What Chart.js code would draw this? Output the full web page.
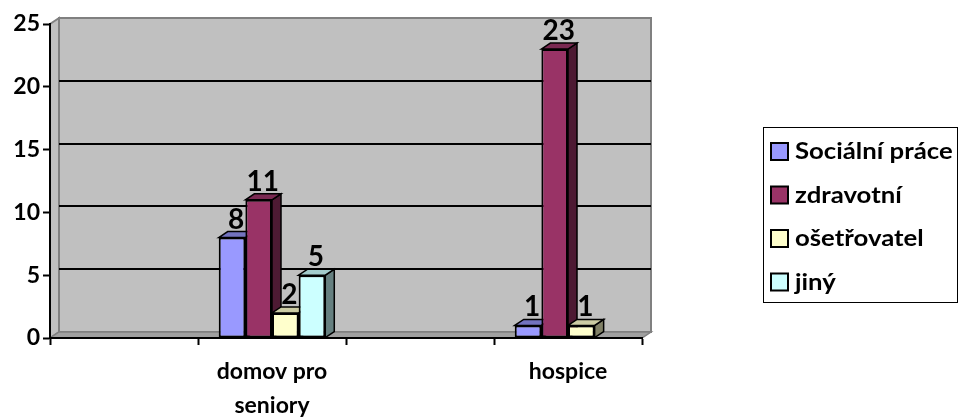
<!DOCTYPE html>
<html>
<head>
<meta charset="utf-8">
<script src="https://cdn.jsdelivr.net/npm/chart.js@4.4.1/dist/chart.umd.min.js"></script>
<style>
  html, body { margin: 0; padding: 0; background: #fff; overflow: hidden; }
  canvas { display: block; }
</style>
</head>
<body>
<canvas id="c" width="959" height="419"></canvas>
<script>
// Categories (the empty ones keep the spacing between the two groups)
const categories = ['', ['domov pro', 'seniory'], '', 'hospice'];
const seriesNames = ['Sociální práce', 'zdravotní', 'ošetřovatel', 'jiný'];

// Counts per category
const socialniPrace = [null, 8, null, 1];
const zdravotni     = [null, 11, null, 23];
const osetrovatel   = [null, 2, null, 1];
const jiny          = [null, 5, null, null];

const yTicks = [0, 5, 10, 15, 20, 25];

// Face colours: front, top, side
const frontColors = ['#9999FF', '#993366', '#FFFFCC', '#CCFFFF'];
const topColors   = ['#7373BF', '#7A2952', '#CCCCA3', '#A3CCCC'];
const sideColors  = ['#4D4D80', '#4D1A33', '#808066', '#668080'];

// Depth offset of the pseudo-3D box
const DX = 9, DY = -6;
const FONT = 'Lato';

function poly(ctx, pts, fill, stroke, lw) {
  ctx.beginPath();
  ctx.moveTo(pts[0][0], pts[0][1]);
  for (let i = 1; i < pts.length; i++) ctx.lineTo(pts[i][0], pts[i][1]);
  ctx.closePath();
  if (fill) { ctx.fillStyle = fill; ctx.fill(); }
  if (stroke) { ctx.strokeStyle = stroke; ctx.lineWidth = lw || 1; ctx.stroke(); }
}

const box3d = {
  id: 'box3d',
  beforeDraw(chart) {
    const { ctx, chartArea: a } = chart;
    const ys = chart.scales.y;
    ctx.save();
    ctx.lineJoin = 'miter';
    // left wall
    poly(ctx, [[a.left, a.bottom], [a.left, a.top], [a.left + DX, a.top + DY], [a.left + DX, a.bottom + DY]], '#C0C0C0', '#808080', 2);
    // back wall
    poly(ctx, [[a.left + DX, a.top + DY], [a.right + DX, a.top + DY], [a.right + DX, a.bottom + DY], [a.left + DX, a.bottom + DY]], '#C0C0C0', '#808080', 2);
    // gridlines on the back wall
    ctx.strokeStyle = '#000';
    ctx.lineWidth = 2;
    yTicks.forEach(v => {
      if (v === ys.min || v === ys.max) return;
      const py = Math.round(ys.getPixelForValue(v) + DY);
      ctx.beginPath();
      ctx.moveTo(a.left + DX, py);
      ctx.lineTo(a.right + DX, py);
      ctx.stroke();
    });
    // floor
    poly(ctx, [[a.left, a.bottom], [a.left + DX, a.bottom + DY], [a.right + DX, a.bottom + DY], [a.right, a.bottom]], '#A0A0A0', '#808080', 1.5);
    ctx.restore();
  },
  beforeDatasetsDraw(chart) {
    // top and side faces, painted left to right; the front faces come after
    const { ctx } = chart;
    ctx.save();
    ctx.lineJoin = 'miter';
    const n = chart.data.labels.length;
    for (let j = 0; j < n; j++) {
      chart.data.datasets.forEach((ds, i) => {
        const v = ds.data[j];
        if (v === null || v === undefined) return;
        const el = chart.getDatasetMeta(i).data[j];
        const l = el.x - el.width / 2, r = el.x + el.width / 2, t = el.y, b = el.base;
        poly(ctx, [[r, t], [r + DX, t + DY], [r + DX, b + DY], [r, b]], sideColors[i], '#000', 1.5);
        poly(ctx, [[l, t], [l + DX, t + DY], [r + DX, t + DY], [r, t]], topColors[i], '#000', 1.5);
      });
    }
    ctx.restore();
  },
  afterDatasetsDraw(chart) {
    // value labels
    const { ctx } = chart;
    ctx.save();
    ctx.fillStyle = '#000';
    ctx.font = 'bold 28px ' + FONT;
    ctx.textAlign = 'center';
    ctx.textBaseline = 'alphabetic';
    chart.data.datasets.forEach((ds, i) => {
      chart.getDatasetMeta(i).data.forEach((el, j) => {
        const v = ds.data[j];
        if (v === null || v === undefined) return;
        ctx.fillText(String(v), el.x + 4, el.y - 9);
      });
    });
    ctx.restore();
  },
  afterDraw(chart) {
    // legend
    const { ctx } = chart;
    ctx.save();
    ctx.strokeStyle = '#000';
    ctx.lineWidth = 1;
    ctx.strokeRect(763.5, 127.5, 194, 175);
    chart.data.datasets.forEach((ds, i) => {
      const cy = 151 + i * 43.5;
      ctx.fillStyle = ds.backgroundColor;
      ctx.fillRect(771, cy - 8, 17, 17);
      ctx.lineWidth = 2;
      ctx.strokeRect(771, cy - 8, 17, 17);
      ctx.save();
      ctx.translate(795, cy + 1);
      ctx.scale(1.17, 1);
      ctx.font = 'bold 22px ' + FONT;
      ctx.textAlign = 'left';
      ctx.textBaseline = 'middle';
      ctx.fillStyle = '#000';
      ctx.fillText(ds.label, 0, 0);
      ctx.restore();
    });
    ctx.restore();
  }
};

const seriesData = [socialniPrace, zdravotni, osetrovatel, jiny];

new Chart(document.getElementById('c'), {
  type: 'bar',
  data: {
    labels: categories,
    datasets: seriesData.map((d, i) => ({
      label: seriesNames[i],
      data: d,
      backgroundColor: frontColors[i],
      borderColor: '#000',
      borderWidth: 2,
      borderSkipped: false,
      categoryPercentage: 0.72,
      barPercentage: 1.0
    }))
  },
  options: {
    responsive: false,
    animation: false,
    devicePixelRatio: 1,
    layout: { padding: { top: 24, right: 317, left: 0, bottom: 0 } },
    plugins: { legend: { display: false }, tooltip: { enabled: false } },
    scales: {
      x: {
        ticks: {
          color: '#000',
          font: { family: FONT, weight: 'bold', size: 23, lineHeight: 1.5 },
          padding: 9,
          maxRotation: 0,
          autoSkip: false
        },
        grid: { offset: true, drawOnChartArea: false, tickLength: 7, tickWidth: 2, tickColor: '#000' },
        border: { color: '#000', width: 2 },
        afterFit: s => { s.height = 81; }
      },
      y: {
        min: 0,
        max: 25,
        afterBuildTicks: s => { s.ticks = yTicks.map(v => ({ value: v })); },
        ticks: {
          color: '#000',
          font: { family: FONT, weight: 'bold', size: 23 },
          padding: 3
        },
        grid: { drawOnChartArea: false, tickLength: 7, tickWidth: 2, tickColor: '#000' },
        border: { color: '#000', width: 2 },
        afterFit: s => { s.width = 50; }
      }
    }
  },
  plugins: [box3d]
});
</script>
</body>
</html>
